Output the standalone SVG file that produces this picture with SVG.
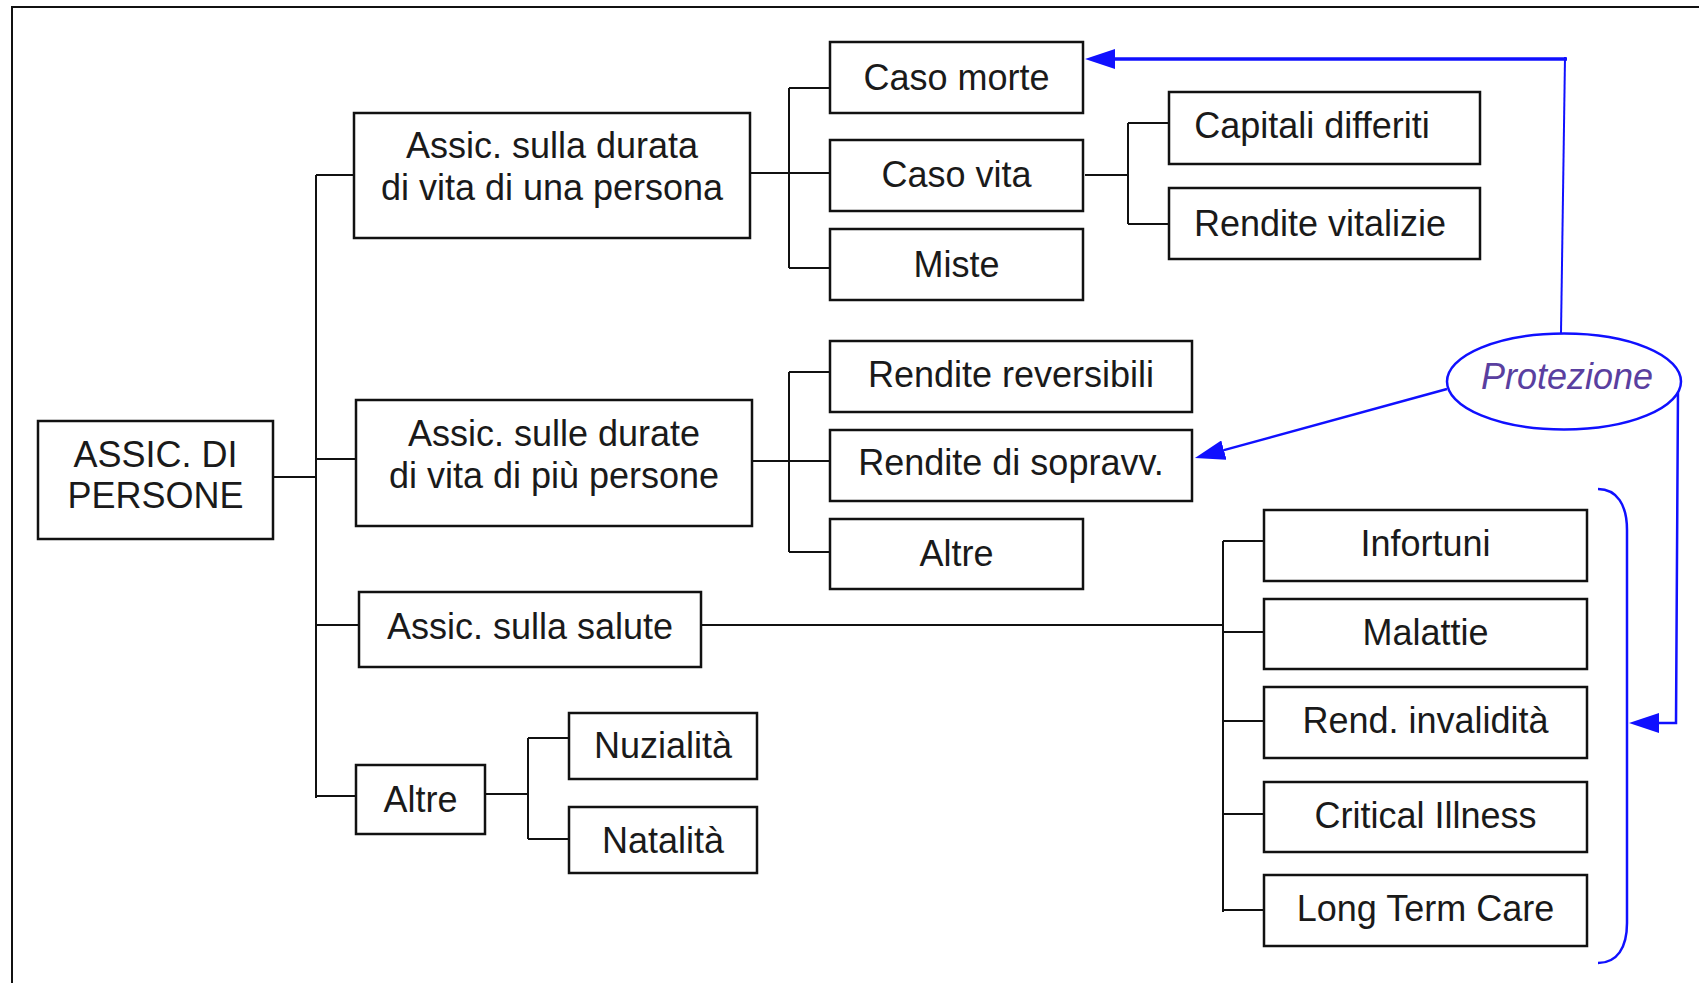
<svg xmlns="http://www.w3.org/2000/svg" width="1699" height="983" viewBox="0 0 1699 983">
<style>
.box{fill:#fff;stroke:#111;stroke-width:2.5}
.t{font-family:"Liberation Sans",Arial,sans-serif;font-size:36px;fill:#1a1a1a;text-anchor:middle}
.ln{fill:none;stroke:#111;stroke-width:2}
.bl{fill:none;stroke:#1010ff;stroke-width:2.5}
.pt{font-family:"Liberation Sans",Arial,sans-serif;font-size:36px;font-style:italic;fill:#5a3fa0;text-anchor:middle}
</style>
<defs>
<marker id="ah" viewBox="0 0 30 20" refX="0" refY="10" markerWidth="30" markerHeight="20" markerUnits="userSpaceOnUse" orient="auto">
<path d="M0,0 L30,10 L0,20 z" fill="#1010ff"/>
</marker>
</defs>
<rect width="1699" height="983" fill="#fff"/>
<path d="M12,983 L12,7 L1699,7" fill="none" stroke="#111" stroke-width="2"/>

<g id="connectors">
<path class="ln" d="M273,477 H316 M316,175 V798 M316,175 H354 M316,459 H356 M316,625 H359 M316,796 H356"/>
<path class="ln" d="M750,173 H789 M789,88 V268 M789,88 H830 M789,173 H830 M789,268 H830"/>
<path class="ln" d="M752,461 H789 M789,372 V552 M789,372 H830 M789,461 H830 M789,552 H830"/>
<path class="ln" d="M1085,175 H1128 M1128,123 V224 M1128,123 H1169 M1128,224 H1169"/>
<path class="ln" d="M701,625 H1223 M1223,541 V912 M1223,541 H1264 M1223,632 H1264 M1223,721 H1264 M1223,814 H1264 M1223,910 H1264"/>
<path class="ln" d="M485,794 H528 M528,738 V839 M528,738 H569 M528,839 H569"/>
<path d="M1561,333 L1565,57" fill="none" stroke="#1010ff" stroke-width="2"/>
<path d="M1567,59 H1115" fill="none" stroke="#1010ff" stroke-width="3.5" marker-end="url(#ah)"/>
<path class="bl" d="M1447,389 L1223.9,450.1" marker-end="url(#ah)"/>
<path class="bl" d="M1678,390 L1676,723 H1659" marker-end="url(#ah)"/>
<path class="bl" d="M1598,489 C1617,489 1627,505 1627,530 L1627,923 C1627,948 1617,963 1598,963"/>
</g>

<g id="n_root"><rect class="box" x="38" y="421" width="235" height="118"/><text class="t" x="155.5" y="467">ASSIC. DI</text><text class="t" x="155.5" y="508">PERSONE</text></g>
<g id="n_durata"><rect class="box" x="354" y="113" width="396" height="125"/><text class="t" x="552" y="158">Assic. sulla durata</text><text class="t" x="552" y="200">di vita di una persona</text></g>
<g id="n_durate"><rect class="box" x="356" y="400" width="396" height="126"/><text class="t" x="554" y="446">Assic. sulle durate</text><text class="t" x="554" y="488">di vita di più persone</text></g>
<g id="n_salute"><rect class="box" x="359" y="592" width="342" height="75"/><text class="t" x="530" y="639">Assic. sulla salute</text></g>
<g id="n_altre"><rect class="box" x="356" y="765" width="129" height="69"/><text class="t" x="420.5" y="812">Altre</text></g>
<g id="n_nuzialita"><rect class="box" x="569" y="713" width="188" height="66"/><text class="t" x="663" y="758">Nuzialità</text></g>
<g id="n_natalita"><rect class="box" x="569" y="807" width="188" height="66"/><text class="t" x="663" y="853">Natalità</text></g>
<g id="n_morte"><rect class="box" x="830" y="42" width="253" height="71"/><text class="t" x="956.5" y="90">Caso morte</text></g>
<g id="n_vita"><rect class="box" x="830" y="140" width="253" height="71"/><text class="t" x="956.5" y="187">Caso vita</text></g>
<g id="n_miste"><rect class="box" x="830" y="229" width="253" height="71"/><text class="t" x="956.5" y="277">Miste</text></g>
<g id="n_capitali"><rect class="box" x="1169" y="92" width="311" height="72"/><text class="t" x="1312" y="138">Capitali differiti</text></g>
<g id="n_vitalizie"><rect class="box" x="1169" y="188" width="311" height="71"/><text class="t" x="1320" y="236">Rendite vitalizie</text></g>
<g id="n_reversibili"><rect class="box" x="830" y="341" width="362" height="71"/><text class="t" x="1011" y="387">Rendite reversibili</text></g>
<g id="n_sopravv"><rect class="box" x="830" y="430" width="362" height="71"/><text class="t" x="1011" y="475">Rendite di sopravv.</text></g>
<g id="n_altre2"><rect class="box" x="830" y="519" width="253" height="70"/><text class="t" x="956.5" y="566">Altre</text></g>
<g id="n_infortuni"><rect class="box" x="1264" y="510" width="323" height="71"/><text class="t" x="1425.5" y="556">Infortuni</text></g>
<g id="n_malattie"><rect class="box" x="1264" y="599" width="323" height="70"/><text class="t" x="1425.5" y="645">Malattie</text></g>
<g id="n_invalidita"><rect class="box" x="1264" y="687" width="323" height="71"/><text class="t" x="1425.5" y="733">Rend. invalidità</text></g>
<g id="n_critical"><rect class="box" x="1264" y="782" width="323" height="70"/><text class="t" x="1425.5" y="828">Critical Illness</text></g>
<g id="n_ltc"><rect class="box" x="1264" y="875" width="323" height="71"/><text class="t" x="1425.5" y="921">Long Term Care</text></g>
<g id="n_protezione"><ellipse cx="1564" cy="381.5" rx="117" ry="48" fill="#fff" stroke="#1010ff" stroke-width="2.5"/><text class="pt" x="1567" y="389">Protezione</text></g>
</svg>
